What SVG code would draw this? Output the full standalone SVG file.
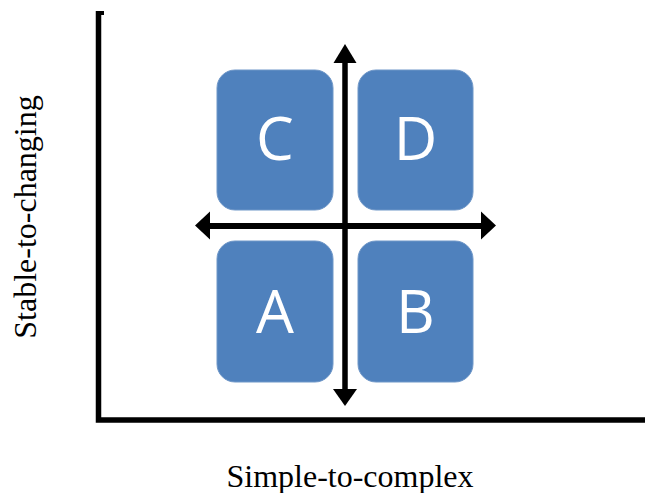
<svg xmlns="http://www.w3.org/2000/svg" width="645" height="493" viewBox="0 0 645 493">
<style>
.box{fill:#4F81BD;stroke:#6F97C8;stroke-width:1}
.lbl{font-family:"Open Sans","Liberation Sans",sans-serif;font-size:60px;fill:#FFFFFF;text-anchor:middle}
.axis{font-family:"Liberation Serif","Times New Roman",serif;font-size:32px;fill:#000000;text-anchor:middle}
.ln{stroke:#000000;fill:none}
</style>
<rect width="645" height="493" fill="#FFFFFF"/>
<g id="frame">
<path class="ln" d="M98.5,11 V420 H645" stroke-width="5.5"/>
<rect x="96" y="11" width="8" height="4" fill="#000000"/>
</g>
<g id="node-C"><rect class="box" x="217" y="70" width="116" height="140" rx="18"/><text class="lbl" x="275" y="160">C</text></g>
<g id="node-D"><rect class="box" x="358" y="70" width="115" height="140" rx="18"/><text class="lbl" x="415.5" y="160">D</text></g>
<g id="node-A"><rect class="box" x="217" y="241" width="116" height="141" rx="18"/><text class="lbl" x="275" y="333">A</text></g>
<g id="node-B"><rect class="box" x="358" y="241" width="115" height="141" rx="18"/><text class="lbl" x="415.5" y="333">B</text></g>
<g id="connectors">
<line class="ln" x1="345" y1="60" x2="345" y2="392" stroke-width="5.5"/>
<polygon points="345,44 356.5,63 333.5,63" fill="#000000"/>
<polygon points="345,406 357,389 333,389" fill="#000000"/>
<line class="ln" x1="207" y1="226" x2="484" y2="226" stroke-width="6"/>
<polygon points="195,225.5 210,211.5 210,239.5" fill="#000000"/>
<polygon points="496,225.5 481,211.5 481,239.5" fill="#000000"/>
</g>
<text class="axis" x="350" y="487">Simple-to-complex</text>
<text class="axis" transform="translate(36,217) rotate(-90)" x="0" y="0" font-size="30">Stable-to-changing</text>
</svg>
